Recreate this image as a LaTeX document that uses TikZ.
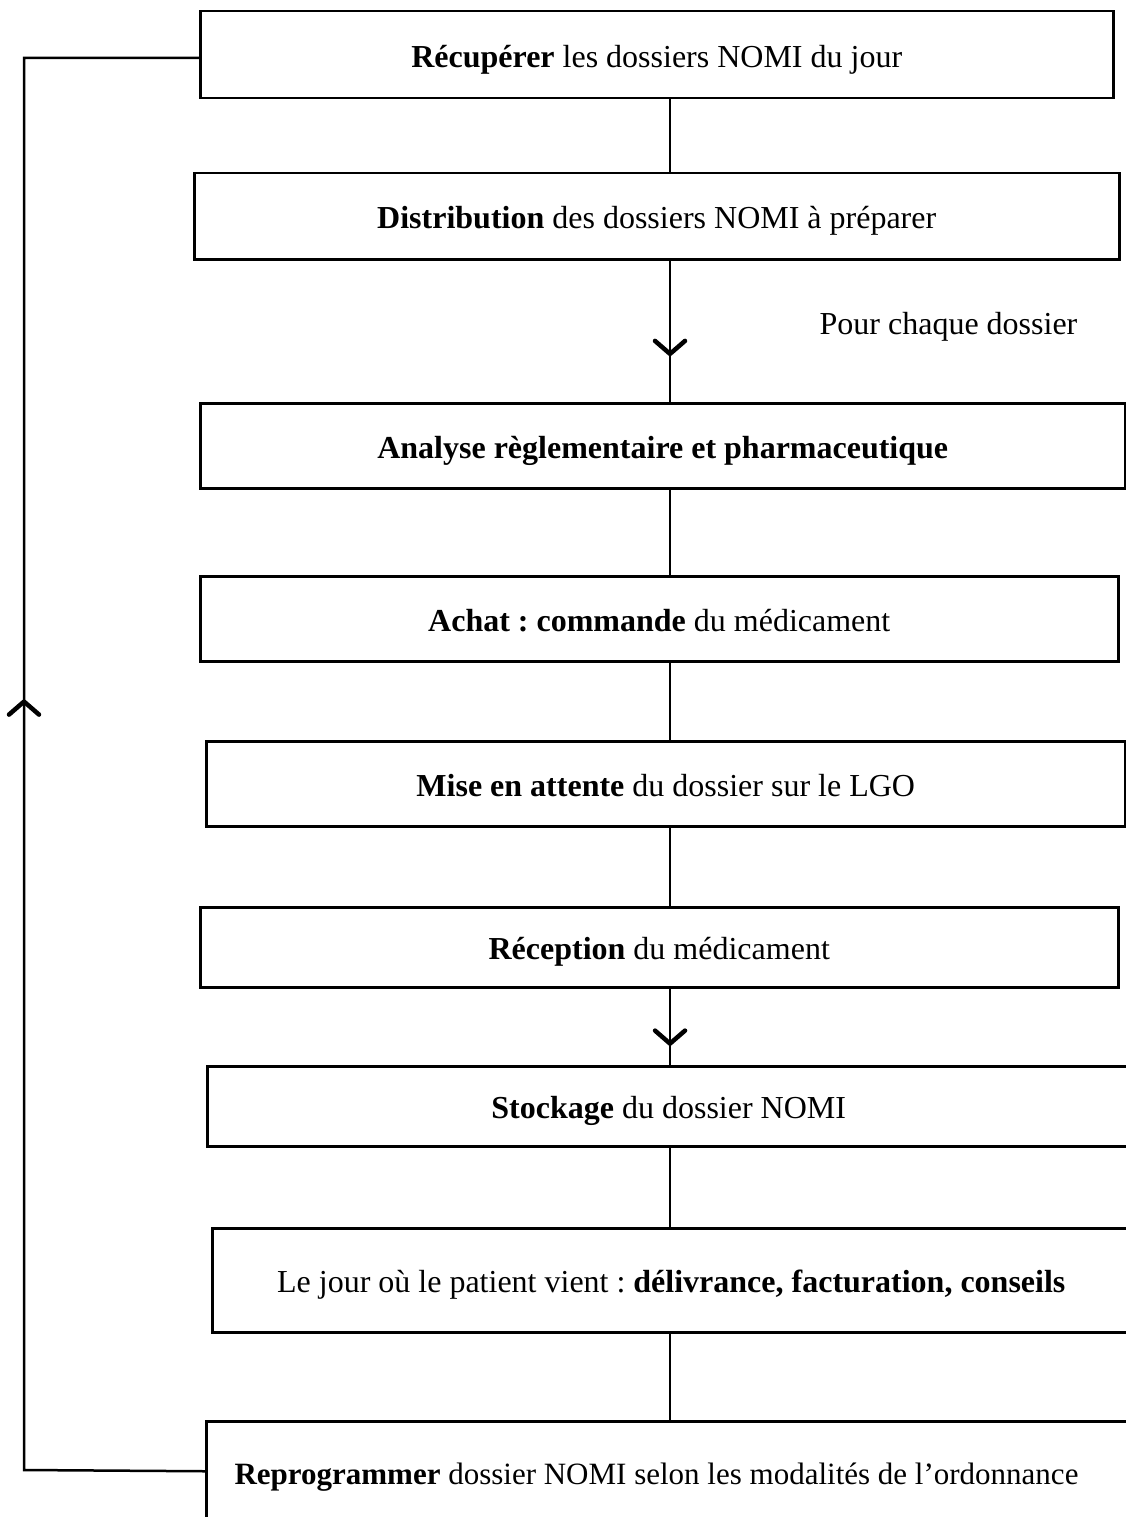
\documentclass[tikz,border=0pt]{standalone}
\usepackage{fontspec}
\setmainfont{Liberation Serif}
\usetikzlibrary{decorations.markings}
\frenchspacing

\tikzset{
  box/.style={draw, line width=2.5pt, rectangle, inner sep=0pt, anchor=north west,
              text height=32pt, text depth=7pt,
              font=\fontsize{32}{36}\selectfont},
  label/.style={font=\fontsize{32}{36}\selectfont, inner sep=0pt,
                text height=32pt, text depth=7pt},
  link/.style={line width=2.5pt},
  chevron/.style={decoration={markings,
      mark=at position #1 with {\draw[line width=4.5pt, line cap=round, line join=round]
        (-13pt,15pt) -- (0pt,0pt) -- (-13pt,-15pt);}},
      postaction={decorate}}
}

\begin{document}
\begin{tikzpicture}[x=1pt,y=-1pt]
\useasboundingbox (0,0) rectangle (1125,1517);

\coordinate (axis) at (670,0);

% process steps
\node[box, minimum width=913pt, minimum height=87pt] (recup) at (199,10)
  {\textbf{Récupérer} les dossiers NOMI du jour};
\node[box, minimum width=925pt, minimum height=86pt] (distrib) at (193,172)
  {\textbf{Distribution} des dossiers NOMI à préparer};
\node[box, minimum width=925pt, minimum height=85pt] (analyse) at (199,402)
  {\textbf{Analyse règlementaire et pharmaceutique}};
\node[box, minimum width=918pt, minimum height=85pt] (achat) at (199,575)
  {\textbf{Achat : commande} du médicament};
\node[box, minimum width=919pt, minimum height=85pt] (attente) at (205,740)
  {\textbf{Mise en attente} du dossier sur le LGO};
\node[box, minimum width=918pt, minimum height=80pt] (recep) at (199,906)
  {\textbf{Réception} du médicament};
\node[box, minimum width=923pt, minimum height=80pt] (stock) at (206,1065)
  {\textbf{Stockage} du dossier NOMI};
\node[box, minimum width=918pt, minimum height=104pt] (deliv) at (211,1227)
  {Le jour où le patient vient : \textbf{délivrance, facturation, conseils}};
\node[box, minimum width=930pt, minimum height=100pt] (reprog) at (205,1420) {};
\node[label, font=\fontsize{31}{36}\selectfont] (reprogtxt) at (656.5,1472)
  {\textbf{Reprogrammer} dossier NOMI selon les modalités de l’ordonnance};

\node[label] (chaque) at (948.5,322) {Pour chaque dossier};

% vertical links
\draw[link] (recup.south -| axis) -- (distrib.north -| axis);
\draw[link, chevron=0.66] (distrib.south -| axis) -- (analyse.north -| axis);
\draw[link] (analyse.south -| axis) -- (achat.north -| axis);
\draw[link] (achat.south -| axis) -- (attente.north -| axis);
\draw[link] (attente.south -| axis) -- (recep.north -| axis);
\draw[link, chevron=0.72] (recep.south -| axis) -- (stock.north -| axis);
\draw[link] (stock.south -| axis) -- (deliv.north -| axis);
\draw[link] (deliv.south -| axis) -- (reprog.north -| axis);

% loop back to the first step
\coordinate (loopbot) at (24,1470);
\coordinate (looptop) at (24,58);
\draw[link, chevron=0.537] (reprog.west) -- (loopbot) -- (looptop) -- (recup.west |- looptop);
\end{tikzpicture}
\end{document}
